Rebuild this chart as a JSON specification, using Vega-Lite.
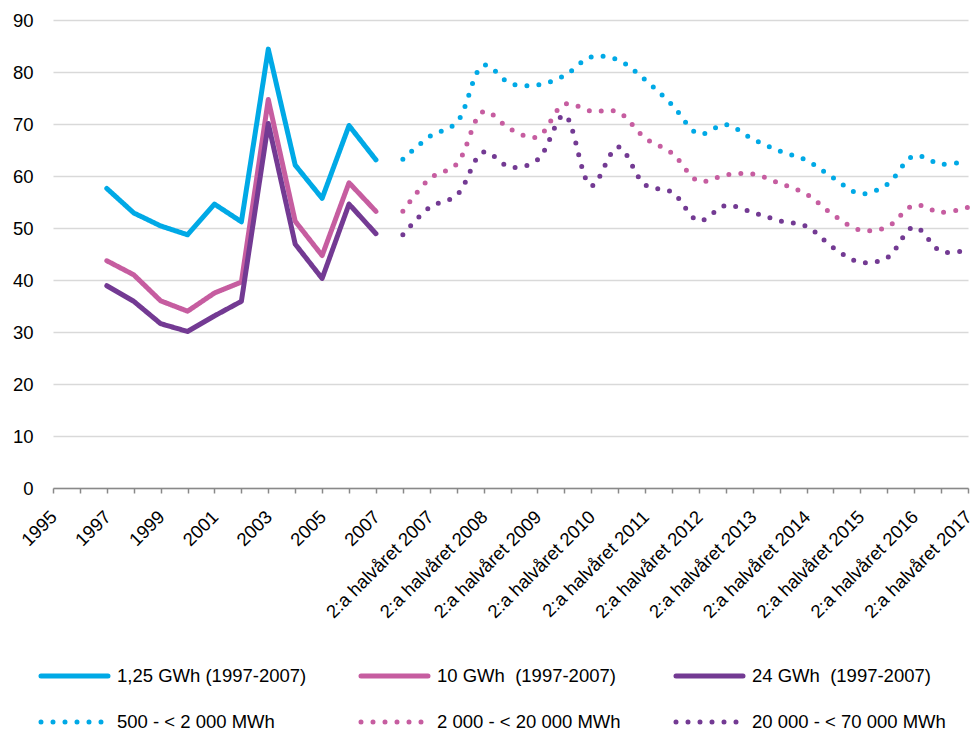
{
  "$schema": "https://vega.github.io/schema/vega-lite/v6.json",
  "autosize": {"type": "none"},
  "width": 915,
  "height": 468,
  "padding": {"left": 53, "top": 20, "right": 7, "bottom": 245},
  "config": {"view": {"stroke": null}, "font": "Liberation Sans"},
  "datasets": {
    "solid": [
      {"period": "1997", "series": "1,25 GWh (1997-2007)", "value": 57.6},
      {"period": "1998", "series": "1,25 GWh (1997-2007)", "value": 52.9},
      {"period": "1999", "series": "1,25 GWh (1997-2007)", "value": 50.4},
      {"period": "2000", "series": "1,25 GWh (1997-2007)", "value": 48.7},
      {"period": "2001", "series": "1,25 GWh (1997-2007)", "value": 54.6},
      {"period": "2002", "series": "1,25 GWh (1997-2007)", "value": 51.2},
      {"period": "2003", "series": "1,25 GWh (1997-2007)", "value": 84.4},
      {"period": "2004", "series": "1,25 GWh (1997-2007)", "value": 62.1},
      {"period": "2005", "series": "1,25 GWh (1997-2007)", "value": 55.7},
      {"period": "2006", "series": "1,25 GWh (1997-2007)", "value": 69.7},
      {"period": "2007", "series": "1,25 GWh (1997-2007)", "value": 63.1},
      {"period": "1997", "series": "10 GWh\u00a0 (1997-2007)", "value": 43.7},
      {"period": "1998", "series": "10 GWh\u00a0 (1997-2007)", "value": 41.0},
      {"period": "1999", "series": "10 GWh\u00a0 (1997-2007)", "value": 36.0},
      {"period": "2000", "series": "10 GWh\u00a0 (1997-2007)", "value": 34.0},
      {"period": "2001", "series": "10 GWh\u00a0 (1997-2007)", "value": 37.5},
      {"period": "2002", "series": "10 GWh\u00a0 (1997-2007)", "value": 39.6},
      {"period": "2003", "series": "10 GWh\u00a0 (1997-2007)", "value": 74.7},
      {"period": "2004", "series": "10 GWh\u00a0 (1997-2007)", "value": 51.3},
      {"period": "2005", "series": "10 GWh\u00a0 (1997-2007)", "value": 44.7},
      {"period": "2006", "series": "10 GWh\u00a0 (1997-2007)", "value": 58.7},
      {"period": "2007", "series": "10 GWh\u00a0 (1997-2007)", "value": 53.2},
      {"period": "1997", "series": "24 GWh\u00a0 (1997-2007)", "value": 38.9},
      {"period": "1998", "series": "24 GWh\u00a0 (1997-2007)", "value": 35.9},
      {"period": "1999", "series": "24 GWh\u00a0 (1997-2007)", "value": 31.6},
      {"period": "2000", "series": "24 GWh\u00a0 (1997-2007)", "value": 30.1},
      {"period": "2001", "series": "24 GWh\u00a0 (1997-2007)", "value": 33.1},
      {"period": "2002", "series": "24 GWh\u00a0 (1997-2007)", "value": 35.9},
      {"period": "2003", "series": "24 GWh\u00a0 (1997-2007)", "value": 70.1},
      {"period": "2004", "series": "24 GWh\u00a0 (1997-2007)", "value": 46.9},
      {"period": "2005", "series": "24 GWh\u00a0 (1997-2007)", "value": 40.3},
      {"period": "2006", "series": "24 GWh\u00a0 (1997-2007)", "value": 54.6},
      {"period": "2007", "series": "24 GWh\u00a0 (1997-2007)", "value": 48.9}
    ],
    "dotted": [
      {"period": "1:a halvåret 2007", "series": "500 - < 2 000 MWh", "value": 63.2},
      {"period": "2:a halvåret 2007", "series": "500 - < 2 000 MWh", "value": 67.6},
      {"period": "1:a halvåret 2008", "series": "500 - < 2 000 MWh", "value": 70.3},
      {"period": "2:a halvåret 2008", "series": "500 - < 2 000 MWh", "value": 81.3},
      {"period": "1:a halvåret 2009", "series": "500 - < 2 000 MWh", "value": 77.8},
      {"period": "2:a halvåret 2009", "series": "500 - < 2 000 MWh", "value": 77.5},
      {"period": "1:a halvåret 2010", "series": "500 - < 2 000 MWh", "value": 79.3},
      {"period": "2:a halvåret 2010", "series": "500 - < 2 000 MWh", "value": 82.9},
      {"period": "1:a halvåret 2011", "series": "500 - < 2 000 MWh", "value": 82.3},
      {"period": "2:a halvåret 2011", "series": "500 - < 2 000 MWh", "value": 78.5},
      {"period": "1:a halvåret 2012", "series": "500 - < 2 000 MWh", "value": 73.7},
      {"period": "2:a halvåret 2012", "series": "500 - < 2 000 MWh", "value": 68.1},
      {"period": "1:a halvåret 2013", "series": "500 - < 2 000 MWh", "value": 69.9},
      {"period": "2:a halvåret 2013", "series": "500 - < 2 000 MWh", "value": 67.1},
      {"period": "1:a halvåret 2014", "series": "500 - < 2 000 MWh", "value": 64.8},
      {"period": "2:a halvåret 2014", "series": "500 - < 2 000 MWh", "value": 63.0},
      {"period": "1:a halvåret 2015", "series": "500 - < 2 000 MWh", "value": 59.6},
      {"period": "2:a halvåret 2015", "series": "500 - < 2 000 MWh", "value": 56.6},
      {"period": "1:a halvåret 2016", "series": "500 - < 2 000 MWh", "value": 58.4},
      {"period": "2:a halvåret 2016", "series": "500 - < 2 000 MWh", "value": 63.9},
      {"period": "1:a halvåret 2017", "series": "500 - < 2 000 MWh", "value": 62.3},
      {"period": "2:a halvåret 2017", "series": "500 - < 2 000 MWh", "value": 62.9},
      {"period": "1:a halvåret 2007", "series": "2 000 - < 20 000 MWh", "value": 53.2},
      {"period": "2:a halvåret 2007", "series": "2 000 - < 20 000 MWh", "value": 59.5},
      {"period": "1:a halvåret 2008", "series": "2 000 - < 20 000 MWh", "value": 62.3},
      {"period": "2:a halvåret 2008", "series": "2 000 - < 20 000 MWh", "value": 72.4},
      {"period": "1:a halvåret 2009", "series": "2 000 - < 20 000 MWh", "value": 69.0},
      {"period": "2:a halvåret 2009", "series": "2 000 - < 20 000 MWh", "value": 67.5},
      {"period": "1:a halvåret 2010", "series": "2 000 - < 20 000 MWh", "value": 73.8},
      {"period": "2:a halvåret 2010", "series": "2 000 - < 20 000 MWh", "value": 72.5},
      {"period": "1:a halvåret 2011", "series": "2 000 - < 20 000 MWh", "value": 72.3},
      {"period": "2:a halvåret 2011", "series": "2 000 - < 20 000 MWh", "value": 67.3},
      {"period": "1:a halvåret 2012", "series": "2 000 - < 20 000 MWh", "value": 64.4},
      {"period": "2:a halvåret 2012", "series": "2 000 - < 20 000 MWh", "value": 59.0},
      {"period": "1:a halvåret 2013", "series": "2 000 - < 20 000 MWh", "value": 60.2},
      {"period": "2:a halvåret 2013", "series": "2 000 - < 20 000 MWh", "value": 60.4},
      {"period": "1:a halvåret 2014", "series": "2 000 - < 20 000 MWh", "value": 58.6},
      {"period": "2:a halvåret 2014", "series": "2 000 - < 20 000 MWh", "value": 56.5},
      {"period": "1:a halvåret 2015", "series": "2 000 - < 20 000 MWh", "value": 52.5},
      {"period": "2:a halvåret 2015", "series": "2 000 - < 20 000 MWh", "value": 49.6},
      {"period": "1:a halvåret 2016", "series": "2 000 - < 20 000 MWh", "value": 50.2},
      {"period": "2:a halvåret 2016", "series": "2 000 - < 20 000 MWh", "value": 54.4},
      {"period": "1:a halvåret 2017", "series": "2 000 - < 20 000 MWh", "value": 53.0},
      {"period": "2:a halvåret 2017", "series": "2 000 - < 20 000 MWh", "value": 54.0},
      {"period": "1:a halvåret 2007", "series": "20 000 - < 70 000 MWh", "value": 48.7},
      {"period": "2:a halvåret 2007", "series": "20 000 - < 70 000 MWh", "value": 54.0},
      {"period": "1:a halvåret 2008", "series": "20 000 - < 70 000 MWh", "value": 56.3},
      {"period": "2:a halvåret 2008", "series": "20 000 - < 70 000 MWh", "value": 64.6},
      {"period": "1:a halvåret 2009", "series": "20 000 - < 70 000 MWh", "value": 61.7},
      {"period": "2:a halvåret 2009", "series": "20 000 - < 70 000 MWh", "value": 63.1},
      {"period": "1:a halvåret 2010", "series": "20 000 - < 70 000 MWh", "value": 71.7},
      {"period": "2:a halvåret 2010", "series": "20 000 - < 70 000 MWh", "value": 58.1},
      {"period": "1:a halvåret 2011", "series": "20 000 - < 70 000 MWh", "value": 65.6},
      {"period": "2:a halvåret 2011", "series": "20 000 - < 70 000 MWh", "value": 58.3},
      {"period": "1:a halvåret 2012", "series": "20 000 - < 70 000 MWh", "value": 56.9},
      {"period": "2:a halvåret 2012", "series": "20 000 - < 70 000 MWh", "value": 51.4},
      {"period": "1:a halvåret 2013", "series": "20 000 - < 70 000 MWh", "value": 54.3},
      {"period": "2:a halvåret 2013", "series": "20 000 - < 70 000 MWh", "value": 53.0},
      {"period": "1:a halvåret 2014", "series": "20 000 - < 70 000 MWh", "value": 51.4},
      {"period": "2:a halvåret 2014", "series": "20 000 - < 70 000 MWh", "value": 50.3},
      {"period": "1:a halvåret 2015", "series": "20 000 - < 70 000 MWh", "value": 46.2},
      {"period": "2:a halvåret 2015", "series": "20 000 - < 70 000 MWh", "value": 43.4},
      {"period": "1:a halvåret 2016", "series": "20 000 - < 70 000 MWh", "value": 44.3},
      {"period": "2:a halvåret 2016", "series": "20 000 - < 70 000 MWh", "value": 50.2},
      {"period": "1:a halvåret 2017", "series": "20 000 - < 70 000 MWh", "value": 45.5},
      {"period": "2:a halvåret 2017", "series": "20 000 - < 70 000 MWh", "value": 45.8}
    ]
  },
  "encoding": {
    "x": {
      "field": "period",
      "type": "nominal",
      "sort": null,
      "scale": {
        "type": "point",
        "padding": 0,
        "domain": ["1995", "1996", "1997", "1998", "1999", "2000", "2001", "2002", "2003", "2004", "2005", "2006", "2007",
          "1:a halvåret 2007", "2:a halvåret 2007", "1:a halvåret 2008", "2:a halvåret 2008", "1:a halvåret 2009", "2:a halvåret 2009",
          "1:a halvåret 2010", "2:a halvåret 2010", "1:a halvåret 2011", "2:a halvåret 2011", "1:a halvåret 2012", "2:a halvåret 2012",
          "1:a halvåret 2013", "2:a halvåret 2013", "1:a halvåret 2014", "2:a halvåret 2014", "1:a halvåret 2015", "2:a halvåret 2015",
          "1:a halvåret 2016", "2:a halvåret 2016", "1:a halvåret 2017", "2:a halvåret 2017"]
      },
      "axis": {
        "title": null,
        "grid": false,
        "labelAngle": -45,
        "labelFontSize": 18.5,
        "labelColor": "#000000",
        "labelPadding": 14,
        "labelOffset": -6,
        "labelBound": false,
        "labelOverlap": false,
        "labelLimit": 300,
        "domainColor": "#898989",
        "domainWidth": 1.5,
        "tickColor": "#898989",
        "tickWidth": 1.5,
        "tickSize": 5,
        "labelExpr": "indexof(datum.value, '1:a') === 0 || indexof(['1996','1998','2000','2002','2004','2006'], datum.value) >= 0 ? '' : datum.label"
      }
    },
    "y": {
      "field": "value",
      "type": "quantitative",
      "scale": {"domain": [0, 90], "nice": false},
      "axis": {
        "title": null,
        "values": [0, 10, 20, 30, 40, 50, 60, 70, 80, 90],
        "domain": false,
        "ticks": false,
        "labelPadding": 20,
        "labelFontSize": 18.5,
        "labelColor": "#000000",
        "gridColor": "#D9D9D9",
        "gridWidth": 1.5
      }
    },
    "color": {
      "field": "series",
      "type": "nominal",
      "scale": {
        "domain": ["1,25 GWh (1997-2007)", "10 GWh\u00a0 (1997-2007)", "24 GWh\u00a0 (1997-2007)", "500 - < 2 000 MWh", "2 000 - < 20 000 MWh", "20 000 - < 70 000 MWh"],
        "range": ["#00A9E6", "#C65DA0", "#733A93", "#00A9E6", "#C65DA0", "#733A93"]
      },
      "legend": {
        "title": null, "orient": "none", "legendX": -14.5, "legendY": 620, "direction": "horizontal", "columns": 3,
        "columnPadding": 44, "rowPadding": -18, "symbolType": "stroke", "symbolSize": 4489, "symbolStrokeWidth": 5,
        "labelFontSize": 18.5, "labelColor": "#000000", "labelOffset": 6.5, "labelLimit": 300, "padding": 0,
        "encoding": {"symbols": {"strokeCap": {"value": "round"}}}
      }
    },
    "strokeDash": {
      "field": "series",
      "type": "nominal",
      "scale": {
        "domain": ["1,25 GWh (1997-2007)", "10 GWh\u00a0 (1997-2007)", "24 GWh\u00a0 (1997-2007)", "500 - < 2 000 MWh", "2 000 - < 20 000 MWh", "20 000 - < 70 000 MWh"],
        "range": [[1, 0], [1, 0], [1, 0], [0, 12], [0, 12], [0, 12]]
      },
      "legend": {
        "title": null, "orient": "none", "legendX": -14.5, "legendY": 620, "direction": "horizontal", "columns": 3,
        "columnPadding": 44, "rowPadding": -18, "symbolType": "stroke", "symbolSize": 4489, "symbolStrokeWidth": 5,
        "labelFontSize": 18.5, "labelColor": "#000000", "labelOffset": 6.5, "labelLimit": 300, "padding": 0,
        "encoding": {"symbols": {"strokeCap": {"value": "round"}}}
      }
    }
  },
  "layer": [
    {"data": {"name": "solid"}, "mark": {"type": "line", "strokeWidth": 5, "strokeCap": "round", "strokeJoin": "round"}},
    {"data": {"name": "dotted"}, "mark": {"type": "line", "strokeWidth": 5, "strokeCap": "round", "interpolate": "catmull-rom"}}
  ]
}
